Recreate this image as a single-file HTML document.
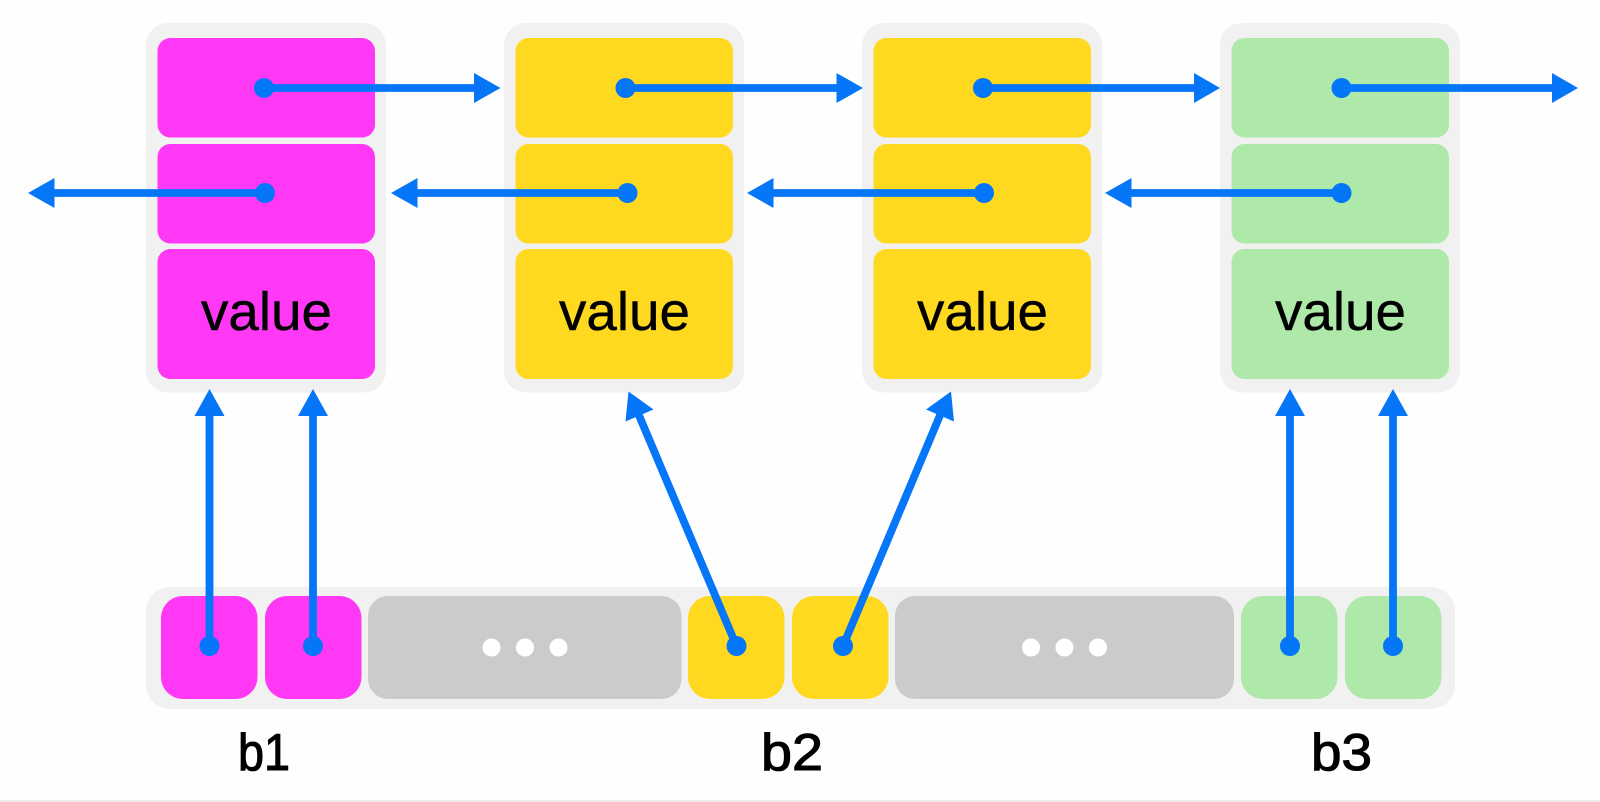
<!DOCTYPE html>
<html>
<head>
<meta charset="utf-8">
<style>
html,body{margin:0;padding:0;background:#fefefe;width:1600px;height:802px;overflow:hidden}
svg{display:block}
text{font-family:"Liberation Sans",sans-serif;fill:#000}
.panel{fill:#f1f1f1}
.m{fill:#ff38f5}.y{fill:#ffd91f}.g{fill:#aee9aa}.k{fill:#cbcbcb}
.v{font-size:54px;text-anchor:middle;stroke:#000;stroke-width:.4px}
.l{font-size:52px;stroke:#000;stroke-width:1.1px}
.ln{stroke:#0676f8;stroke-width:7.8;fill:none}
.b{fill:#0676f8}
</style>
</head>
<body>
<svg width="1600" height="802" viewBox="0 0 1600 802" xmlns="http://www.w3.org/2000/svg">
<rect x="0" y="800" width="1600" height="2" fill="#ececec"/>

<!-- column panels -->
<rect class="panel" x="146" y="23" width="240" height="369.500" rx="22"/>
<rect class="panel" x="504" y="23" width="240" height="369.500" rx="22"/>
<rect class="panel" x="862" y="23" width="240" height="369.500" rx="22"/>
<rect class="panel" x="1220" y="23" width="240" height="369.500" rx="22"/>

<!-- cells -->
<g class="m">
<rect x="157.500" y="38" width="217.500" height="99.500" rx="13"/>
<rect x="157.500" y="144" width="217.500" height="99.500" rx="13"/>
<rect x="157.500" y="249" width="217.500" height="130" rx="13"/>
</g>
<g class="y">
<rect x="515.500" y="38" width="217.500" height="99.500" rx="13"/>
<rect x="515.500" y="144" width="217.500" height="99.500" rx="13"/>
<rect x="515.500" y="249" width="217.500" height="130" rx="13"/>
<rect x="873.500" y="38" width="217.500" height="99.500" rx="13"/>
<rect x="873.500" y="144" width="217.500" height="99.500" rx="13"/>
<rect x="873.500" y="249" width="217.500" height="130" rx="13"/>
</g>
<g class="g">
<rect x="1231.500" y="38" width="217.500" height="99.500" rx="13"/>
<rect x="1231.500" y="144" width="217.500" height="99.500" rx="13"/>
<rect x="1231.500" y="249" width="217.500" height="130" rx="13"/>
</g>

<text class="v" x="266.500" y="330" textLength="131" lengthAdjust="spacingAndGlyphs">value</text>
<text class="v" x="624.500" y="330" textLength="131" lengthAdjust="spacingAndGlyphs">value</text>
<text class="v" x="982.500" y="330" textLength="131" lengthAdjust="spacingAndGlyphs">value</text>
<text class="v" x="1340.500" y="330" textLength="131" lengthAdjust="spacingAndGlyphs">value</text>

<!-- bottom bar -->
<rect class="panel" x="146" y="587" width="1309" height="122" rx="24"/>
<rect class="m" x="161" y="596" width="96.500" height="103" rx="22"/>
<rect class="m" x="265" y="596" width="96.500" height="103" rx="22"/>
<rect class="k" x="368" y="596" width="313.500" height="103" rx="20"/>
<rect class="y" x="688" y="596" width="96.500" height="103" rx="22"/>
<rect class="y" x="792" y="596" width="96.500" height="103" rx="22"/>
<rect class="k" x="895" y="596" width="339" height="103" rx="20"/>
<rect class="g" x="1241" y="596" width="96.500" height="103" rx="22"/>
<rect class="g" x="1345" y="596" width="96.500" height="103" rx="22"/>

<g fill="#fff">
<circle cx="491.500" cy="647.500" r="9"/><circle cx="525" cy="647.500" r="9"/><circle cx="558.500" cy="647.500" r="9"/>
<circle cx="1031" cy="647.500" r="9"/><circle cx="1064.500" cy="647.500" r="9"/><circle cx="1098" cy="647.500" r="9"/>
</g>

<text class="l" x="238" y="770" textLength="52" lengthAdjust="spacingAndGlyphs">b1</text>
<text class="l" x="761" y="770" textLength="62" lengthAdjust="spacingAndGlyphs">b2</text>
<text class="l" x="1311" y="770" textLength="61" lengthAdjust="spacingAndGlyphs">b3</text>

<!-- forward arrows -->
<path class="ln" d="M264 88H476M625.500 88H837M983 88H1196M1341.500 88H1554"/>
<g class="b">
<circle cx="264" cy="88" r="10"/><polygon points="500.500,88 474,73 474,103"/>
<circle cx="625.500" cy="88" r="10"/><polygon points="863,88 836.500,73 836.500,103"/>
<circle cx="983" cy="88" r="10"/><polygon points="1220,88 1194,73 1194,103"/>
<circle cx="1341.500" cy="88" r="10"/><polygon points="1578,88 1552,73 1552,103"/>
</g>

<!-- backward arrows -->
<path class="ln" d="M265 193H52M627.500 193H415M984 193H771M1341.500 193H1129"/>
<g class="b">
<circle cx="265" cy="193" r="10"/><polygon points="28,193 54.500,178 54.500,208"/>
<circle cx="627.500" cy="193" r="10"/><polygon points="391,193 417.500,178 417.500,208"/>
<circle cx="984" cy="193" r="10"/><polygon points="747,193 773.500,178 773.500,208"/>
<circle cx="1341.500" cy="193" r="10"/><polygon points="1105,193 1131.500,178 1131.500,208"/>
</g>

<!-- vertical arrows -->
<path class="ln" d="M209.500 646V412M313 646V412M1290 646V412M1393 646V412"/>
<g class="b">
<circle cx="209.500" cy="646" r="10"/><polygon points="209.500,389 194.500,416 224.500,416"/>
<circle cx="313" cy="646" r="10"/><polygon points="313,389 298,416 328,416"/>
<circle cx="1290" cy="646" r="10"/><polygon points="1290,389 1275,416 1305,416"/>
<circle cx="1393" cy="646" r="10"/><polygon points="1393,389 1378,416 1408,416"/>
</g>

<!-- diagonal arrows -->
<path class="ln" d="M736.500 646L638 413M843 646L941 413"/>
<g class="b">
<circle cx="736.500" cy="646" r="10"/><polygon points="628.500,391.500 625.500,421.500 653.500,409.500"/>
<circle cx="843" cy="646" r="10"/><polygon points="951,391.500 926,409.500 954,421.500"/>
</g>
</svg>
</body>
</html>
